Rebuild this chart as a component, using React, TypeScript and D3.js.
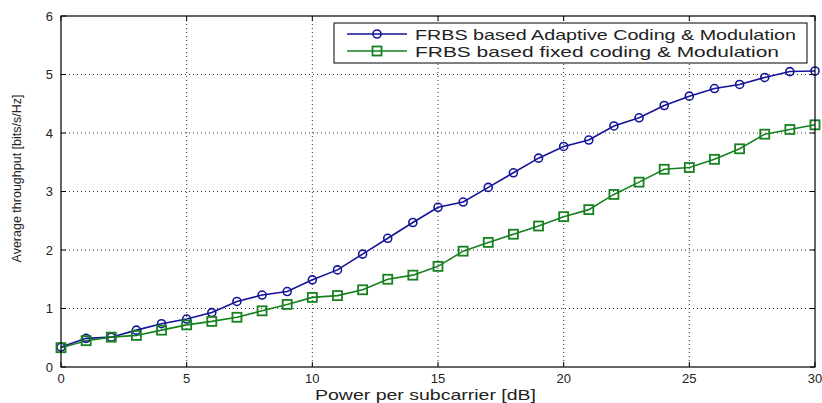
import React from "react";
import * as d3 from "d3";

const xValues = [0,1,2,3,4,5,6,7,8,9,10,11,12,13,14,15,16,17,18,19,20,21,22,23,24,25,26,27,28,29,30];
const adaptive = [0.34,0.49,0.51,0.63,0.74,0.82,0.93,1.12,1.23,1.29,1.49,1.66,1.93,2.2,2.47,2.73,2.82,3.07,3.32,3.57,3.77,3.88,4.12,4.26,4.47,4.63,4.76,4.83,4.95,5.05,5.06];
const fixed = [0.33,0.45,0.51,0.54,0.63,0.72,0.78,0.85,0.96,1.07,1.19,1.22,1.32,1.5,1.57,1.72,1.98,2.13,2.27,2.41,2.57,2.69,2.95,3.16,3.38,3.41,3.55,3.73,3.98,4.06,4.14];
const xTicks = [0,5,10,15,20,25,30];
const yTicks = [0,1,2,3,4,5,6];
const seriesNames = ["FRBS based Adaptive Coding & Modulation", "FRBS based fixed coding & Modulation"];
const xLabel = "Power per subcarrier [dB]";
const yLabel = "Average throughput [bits/s/Hz]";

const W = 822, H = 403;
const L = 61, R = 815, T = 16, B = 367;
const BLUE = "#14149a";
const GREEN = "#17801f";
const FONT = "'Liberation Sans', Arial, sans-serif";

export default function App() {
  const x = d3.scaleLinear().domain([0, 30]).range([L, R]);
  const y = d3.scaleLinear().domain([0, 6]).range([B, T]);
  const line = d3.line<number>().x((_, i) => x(xValues[i])).y(d => y(d));

  return (
    <svg width={W} height={H} style={{ position: "absolute", left: 0, top: 0, background: "#fff" }} fontFamily={FONT}>
      <rect x={0} y={0} width={W} height={H} fill="#fff" />
      {/* grid */}
      {xTicks.slice(1, -1).map(t => (
        <line key={"gx" + t} x1={x(t)} x2={x(t)} y1={T} y2={B} stroke="#333" strokeWidth={1} strokeDasharray="1,3" />
      ))}
      {yTicks.slice(1, -1).map(t => (
        <line key={"gy" + t} x1={L} x2={R} y1={y(t)} y2={y(t)} stroke="#333" strokeWidth={1} strokeDasharray="1,3" />
      ))}
      {/* ticks */}
      {xTicks.map(t => (
        <g key={"tx" + t}>
          <line x1={x(t)} x2={x(t)} y1={B} y2={B - 5} stroke="#000" />
          <line x1={x(t)} x2={x(t)} y1={T} y2={T + 5} stroke="#000" />
          <text x={x(t)} y={383} fontSize={13} textAnchor="middle" fill="#222">{t}</text>
        </g>
      ))}
      {yTicks.map(t => (
        <g key={"ty" + t}>
          <line x1={L} x2={L + 5} y1={y(t)} y2={y(t)} stroke="#000" />
          <line x1={R} x2={R - 5} y1={y(t)} y2={y(t)} stroke="#000" />
          <text x={53} y={y(t) + 4.5} fontSize={13} textAnchor="end" fill="#222">{t}</text>
        </g>
      ))}
      {/* series */}
      <path d={line(adaptive) || ""} fill="none" stroke={BLUE} strokeWidth={1.6} />
      <path d={line(fixed) || ""} fill="none" stroke={GREEN} strokeWidth={1.6} />
      {adaptive.map((v, i) => (
        <circle key={"a" + i} cx={x(xValues[i])} cy={y(v)} r={4} fill="none" stroke={BLUE} strokeWidth={1.6} />
      ))}
      {fixed.map((v, i) => (
        <rect key={"f" + i} x={x(xValues[i]) - 4.5} y={y(v) - 4.5} width={9} height={9} fill="none" stroke={GREEN} strokeWidth={1.8} />
      ))}
      {/* box */}
      <rect x={L} y={T} width={R - L} height={B - T} fill="none" stroke="#000" strokeWidth={1.2} />
      {/* legend */}
      <rect x={334} y={23} width={473} height={40} fill="#fff" stroke="#000" strokeWidth={1} />
      <line x1={347} x2={407} y1={34} y2={34} stroke={BLUE} strokeWidth={1.6} />
      <circle cx={377} cy={34} r={4} fill="none" stroke={BLUE} strokeWidth={1.6} />
      <text x={415} y={39.5} fontSize={15} fill="#222" textLength={381} lengthAdjust="spacingAndGlyphs">{seriesNames[0]}</text>
      <line x1={347} x2={407} y1={51} y2={51} stroke={GREEN} strokeWidth={1.6} />
      <rect x={372.5} y={46.5} width={9} height={9} fill="none" stroke={GREEN} strokeWidth={1.8} />
      <text x={415} y={56.5} fontSize={15} fill="#222" textLength={364} lengthAdjust="spacingAndGlyphs">{seriesNames[1]}</text>
      {/* axis labels */}
      <text x={315} y={400} fontSize={15} fill="#222" textLength={221} lengthAdjust="spacingAndGlyphs">{xLabel}</text>
      <text transform={`translate(21,${178.5}) rotate(-90)`} fontSize={12.5} textAnchor="middle" fill="#222">{yLabel}</text>
    </svg>
  );
}
